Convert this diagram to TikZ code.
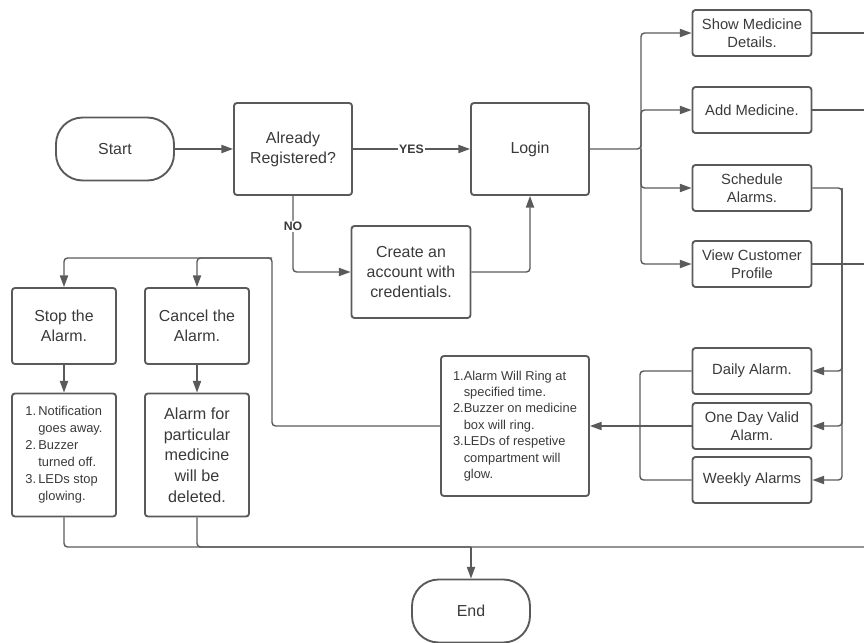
\documentclass[tikz,border=0pt]{standalone}
\usepackage{fontspec}
\setmainfont{Liberation Sans}
\usetikzlibrary{arrows.meta}
\definecolor{ink}{HTML}{3A3A3A}
\definecolor{wire}{HTML}{5A5A5A}

\begin{document}
\begin{tikzpicture}[x=0.03cm, y=-0.03cm,
    flow-box/.style={ rectangle, draw=wire, line width=1.6pt, rounded corners=2.5pt, text=ink, align=center, inner sep=2pt, font=\fontsize{13.6}{17}\selectfont },
    big-box/.style={ flow-box, minimum width=3.54cm, minimum height=2.76cm },
    side-box/.style={ flow-box, minimum width=3.57cm, minimum height=1.38cm, font=\fontsize{12.6}{15.3}\selectfont },
    term-node/.style={ flow-box, minimum width=3.54cm, minimum height=1.89cm, rounded corners=0.8cm },
    wire-line/.style={ draw=wire, line width=1.2pt, rounded corners=3pt },
    wire-arrow/.style={ wire-line, -{Triangle[length=10pt,width=7pt]} },
    tag/.style={ fill=white, text=ink, inner sep=1pt, font=\fontsize{10.5}{12}\selectfont\bfseries }
  ]
  \useasboundingbox (0,0) rectangle (864,643);

  \node[term-node] (Start) at (115, 149) {Start};
  \node[big-box] (Reg) at (293, 149) {Already\\Registered?};
  \node[big-box] (Login) at (530, 149) {Login};
  \node[big-box, minimum width=3.57cm] (Create) at (411, 272) {Create an\\account with\\credentials.};

  \node[side-box] (Show) at (752, 33) {Show Medicine\\Details.};
  \node[side-box] (Add) at (752, 110) {Add Medicine.};
  \node[side-box] (Sched) at (752, 188) {Schedule\\Alarms.};
  \node[side-box] (View) at (752, 264) {View Customer\\Profile};

  \node[side-box] (Daily) at (752, 371) {Daily Alarm.};
  \node[side-box] (OneDay) at (752, 426) {One Day Valid\\Alarm.};
  \node[side-box] (Weekly) at (752, 480) {Weekly Alarms};

  \node[flow-box, minimum width=4.44cm, minimum height=4.2cm, font=\fontsize{11}{14}\selectfont] (Ring) at (515, 426)
    {\begin{tabular}{@{}l@{}l@{}}
      1.&Alarm Will Ring at\\ &specified time.\\
      2.&Buzzer on medicine\\ &box will ring.\\
      3.&LEDs of respetive\\ &compartment will\\ &glow.
    \end{tabular}};

  \node[flow-box, minimum width=3.12cm, minimum height=2.28cm] (Stop) at (64, 326) {Stop the\\Alarm.};
  \node[flow-box, minimum width=3.12cm, minimum height=2.28cm] (Cancel) at (197, 326) {Cancel the\\Alarm.};
  \node[flow-box, minimum width=3.12cm, minimum height=3.69cm, font=\fontsize{11}{14.5}\selectfont] (StopInfo) at (64, 455)
    {\begin{tabular}{@{}l@{\,}l@{}}
      1.&Notification\\ &goes away.\\
      2.&Buzzer\\ &turned off.\\
      3.&LEDs stop\\ &glowing.
    \end{tabular}};
  \node[flow-box, minimum width=3.12cm, minimum height=3.69cm, font=\fontsize{13.8}{17.6}\selectfont] (CancelInfo) at (197, 455)
    {Alarm for\\particular\\medicine\\will be\\deleted.};

  \node[term-node] (End) at (471, 611) {End};

  \coordinate (Fork) at (641, 149);
  \coordinate (Drop) at (842, 188);
  \coordinate (Merge) at (640, 426);
  \coordinate (Back) at (272, 258);
  \coordinate (Bus) at (471, 547);
  \coordinate (Edge) at (864, 547);

  % Edges
  \draw[wire-arrow] (Start) -- (Reg);
  \draw[wire-arrow] (Reg) -- (Login) node[tag, pos=0.5] {YES};
  \draw[wire-arrow] (Reg.south) |- (Create.west) node[tag, pos=0.2] {NO};
  \draw[wire-arrow] (Create.east) -| (Login.south);

  \draw[wire-arrow] (Login.east) -- (Fork) |- (Show.west);
  \draw[wire-arrow] (Fork) |- (Add.west);
  \draw[wire-arrow] (Fork) |- (Sched.west);
  \draw[wire-arrow] (Fork) |- (View.west);
  \draw[wire-line] (Show.east) -- (Show.east -| Edge);
  \draw[wire-line] (Add.east) -- (Add.east -| Edge);
  \draw[wire-line] (View.east) -- (View.east -| Edge);

  \draw[wire-arrow] (Sched.east) -- (Drop) |- (Daily.east);
  \draw[wire-arrow] (Drop) |- (OneDay.east);
  \draw[wire-arrow] (Drop) |- (Weekly.east);

  \draw[wire-line] (Daily.west) -| (Merge);
  \draw[wire-line] (Weekly.west) -| (Merge);
  \draw[wire-arrow] (OneDay.west) -- (Ring.east);

  \draw[wire-arrow] (Ring.west) -| (Back) -| (Stop.north);
  \draw[wire-arrow] (Back) -| (Cancel.north);
  \draw[wire-arrow] (Stop) -- (StopInfo);
  \draw[wire-arrow] (Cancel) -- (CancelInfo);

  \draw[wire-line] (StopInfo.south) |- (Edge);
  \draw[wire-line] (CancelInfo.south) |- (Bus);
  \draw[wire-arrow] (Bus) -- (End.north);
\end{tikzpicture}
\end{document}
